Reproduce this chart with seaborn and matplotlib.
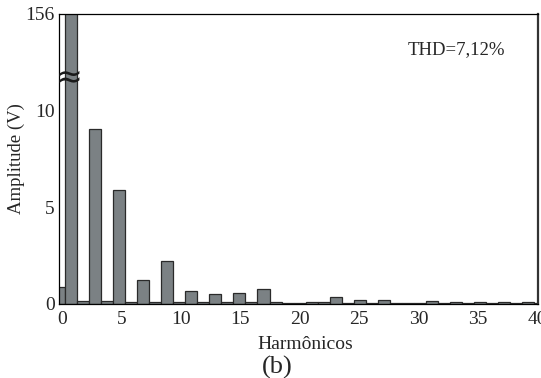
import numpy as np
import pandas as pd
import matplotlib
matplotlib.use("Agg")
import matplotlib.pyplot as plt
import seaborn as sns

# Harmonic spectrum (amplitude in volts); the fundamental is far off scale
harmonics = list(range(41))
amplitudes = [0.85, 156.0, 0.15, 9.05, 0.15, 5.88, 0.10, 1.24, 0.08, 2.20,
              0.10, 0.68, 0.10, 0.50, 0.10, 0.56, 0.10, 0.77, 0.08, 0.03,
              0.03, 0.09, 0.09, 0.38, 0.05, 0.19, 0.05, 0.19, 0.03, 0.03,
              0.03, 0.14, 0.03, 0.10, 0.05, 0.08, 0.05, 0.08, 0.05, 0.08,
              0.05]
x_ticks = [0, 5, 10, 15, 20, 25, 30, 35, 40]
y_ticks = [0, 5, 10]
y_break_label = "156"
thd_text = "THD=7,12%"

df = pd.DataFrame({"h": harmonics, "amp": amplitudes})

sns.set_theme(style="white")
plt.rcParams["font.family"] = ["Liberation Serif", "DejaVu Serif"]

fig = plt.figure(figsize=(5.41, 3.78), dpi=100)
ax = fig.add_axes([0.109, 0.196, 0.8855, 0.767])

sns.barplot(data=df, x="h", y="amp", order=harmonics, color="#7b8184",
            saturation=1, width=1.0, edgecolor="#2a2a2a", linewidth=0.9, ax=ax)

# broken y-axis: linear 0..15, top labelled with the fundamental's value
y_top = 15.0
ax.set_ylim(0, y_top)
ax.set_xlim(0, 39.82)
ax.set_yticks(y_ticks + [y_top])
ax.set_yticklabels([str(v) for v in y_ticks] + [y_break_label])
ax.set_xticks(np.linspace(0.25, 39.75, len(x_ticks)))
ax.set_xticklabels([str(t) for t in x_ticks])

ax.tick_params(axis="both", direction="in", length=4, width=1, color="black",
               labelsize=14, pad=3)
ax.tick_params(axis="x", length=0, pad=5)
for s in ax.spines.values():
    s.set_visible(True)
    s.set_color("black")
    s.set_linewidth(0.9)
ax.spines["right"].set_linewidth(1.6)
ax.spines["right"].set_color("#333333")

# axis break mark across the fundamental's bar
ax.text(0.8, 11.65, "≈", fontsize=23, color="#1a1a1a",
        ha="center", va="center", family="DejaVu Sans", clip_on=False)

ax.set_xlabel("Harmônicos", fontsize=14)
ax.set_ylabel("Amplitude (V)", fontsize=13.5)
ax.xaxis.set_label_coords(0.514, -0.112)
ax.yaxis.set_label_coords(-0.089, 0.5)
ax.yaxis.label.set_va("center")
ax.grid(False)

ax.text(0.83, 0.878, thd_text, transform=ax.transAxes, fontsize=13.5,
        ha="center", va="center")
fig.text(0.512, 0.028, "(b)", fontsize=19, ha="center", va="center")

fig.savefig("out.png", dpi=100, facecolor="white")
